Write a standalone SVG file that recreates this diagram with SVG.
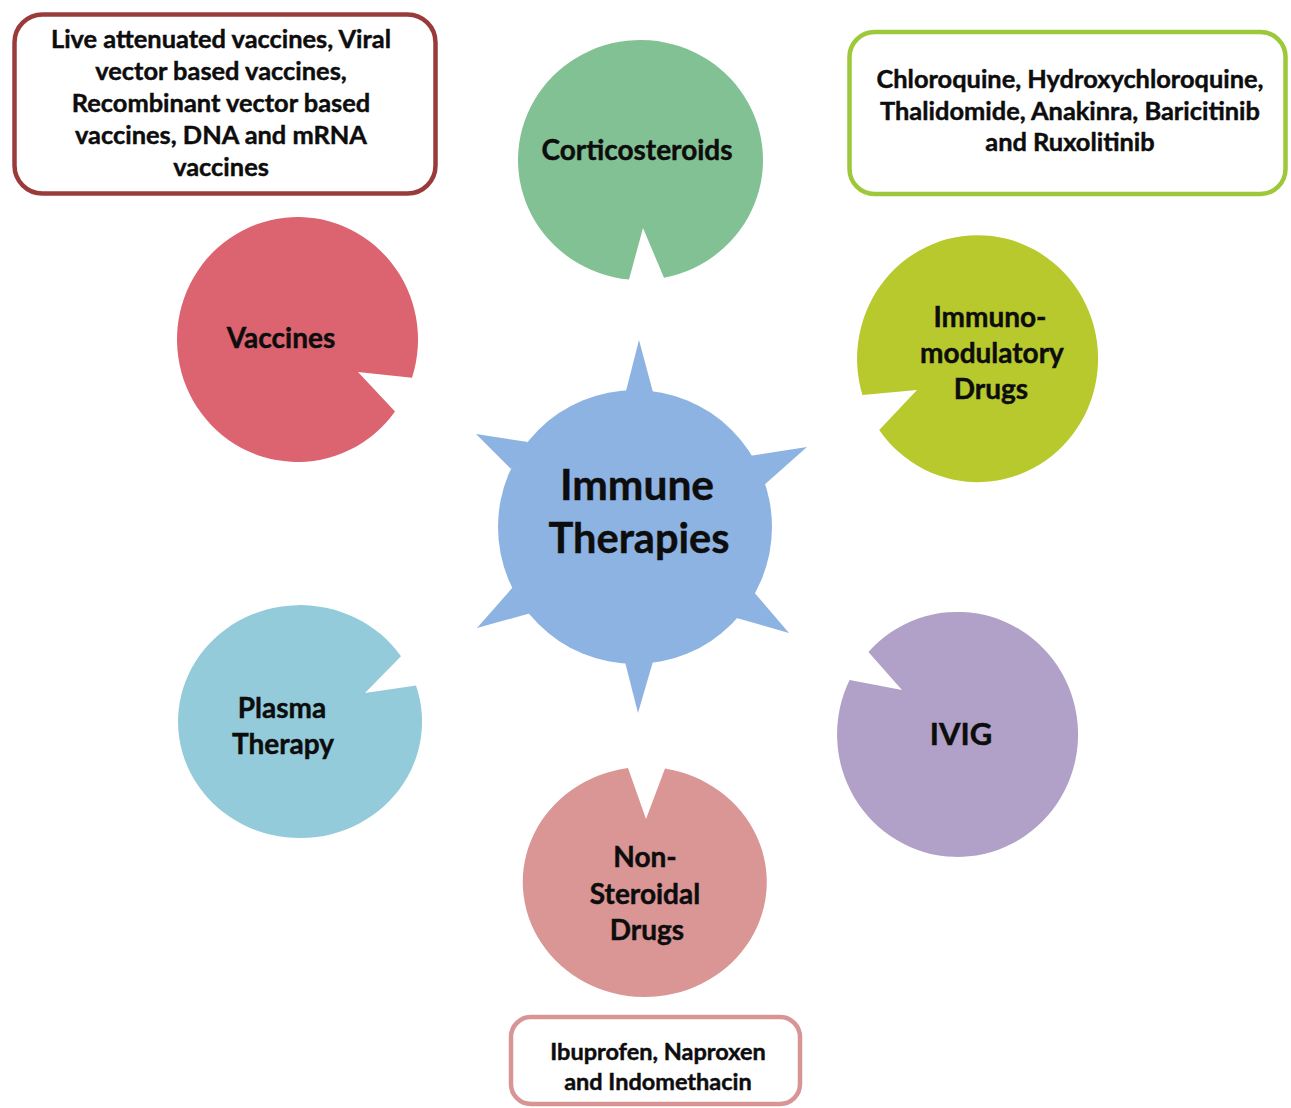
<svg xmlns="http://www.w3.org/2000/svg" width="1291" height="1108" viewBox="0 0 1291 1108">
  <style>
    text { font-family: Lato, "Open Sans", "Liberation Sans", sans-serif; font-weight: 700; fill: #0d0d0d; stroke: #0d0d0d; stroke-width: 0.45; text-anchor: middle; }
    .lbl { font-size: 28px; }
    .box { fill: #ffffff; stroke-width: 4.5; }
    .boxtxt { font-size: 25.4px; }
  </style>
  <rect width="1291" height="1108" fill="#ffffff"/>

  <!-- central hub: disc with six spikes -->
  <g id="immune-therapies">
    <g fill="#8db3e2">
      <circle cx="635" cy="527" r="137"/>
      <polygon points="639,340 625,395 654,396"/>
      <polygon points="807,447 749,456 763,486"/>
      <polygon points="789,633 753,591 733,617"/>
      <polygon points="638,713 624,658 654,658"/>
      <polygon points="477,628 513,587 531,613"/>
      <polygon points="476,434 528,442 511,469"/>
    </g>
    <text x="637" y="500" style="font-size:42.5px">Immune</text>
    <text x="639" y="553" style="font-size:41.5px">Therapies</text>
  </g>

  <!-- notched discs around the hub -->
  <g id="corticosteroids">
    <path d="M 629 279.5 A 122.5 120 0 1 1 664 277.8 L 643 228 Z" fill="#82c194"/>
    <text class="lbl" x="637" y="160">Corticosteroids</text>
  </g>

  <g id="vaccines">
    <path d="M 395 411.5 A 120.5 122.5 0 1 1 412 377.7 L 358 372 Z" fill="#dc6470"/>
    <text class="lbl" x="281" y="348">Vaccines</text>
  </g>

  <g id="immunomodulatory-drugs">
    <path d="M 862.4 395 A 120.5 123.5 0 1 1 879.2 430 L 917 390 Z" fill="#b8c92e"/>
    <text class="lbl" x="990" y="327">Immuno-</text>
    <text class="lbl" x="992" y="363">modulatory</text>
    <text class="lbl" x="991" y="399">Drugs</text>
  </g>

  <g id="plasma-therapy">
    <path d="M 416 685.4 A 122 116.5 0 1 1 401 656.2 L 365 693 Z" fill="#93cbdb"/>
    <text class="lbl" x="282" y="718">Plasma</text>
    <text class="lbl" x="283" y="754">Therapy</text>
  </g>

  <g id="ivig">
    <path d="M 868.4 652 A 120.5 122.5 0 1 1 849.6 680 L 902 690 Z" fill="#b1a1c8"/>
    <text x="961" y="745" style="font-size:31px">IVIG</text>
  </g>

  <g id="non-steroidal-drugs">
    <path d="M 665 768.6 A 122 115 0 1 1 628 768.1 L 646 819 Z" fill="#da9595"/>
    <text class="lbl" x="645" y="867">Non-</text>
    <text class="lbl" x="645" y="904">Steroidal</text>
    <text class="lbl" x="647" y="940">Drugs</text>
  </g>

  <!-- example boxes -->
  <g id="vaccine-examples">
    <rect class="box" x="14.5" y="14.5" width="421" height="179" rx="28" stroke="#9a3b3b"/>
    <text class="boxtxt" x="221" y="48">Live attenuated vaccines, Viral</text>
    <text class="boxtxt" x="221" y="80">vector based vaccines,</text>
    <text class="boxtxt" x="221" y="112">Recombinant vector based</text>
    <text class="boxtxt" x="221" y="144">vaccines, DNA and mRNA</text>
    <text class="boxtxt" x="221" y="176">vaccines</text>
  </g>

  <g id="immunomodulator-examples">
    <rect class="box" x="849.5" y="32" width="436" height="162" rx="25" stroke="#9cc83a"/>
    <text class="boxtxt" x="1070" y="88">Chloroquine, Hydroxychloroquine,</text>
    <text class="boxtxt" x="1070" y="120">Thalidomide, Anakinra, Baricitinib</text>
    <text class="boxtxt" x="1070" y="151">and Ruxolitinib</text>
  </g>

  <g id="nsaid-examples">
    <rect class="box" x="511" y="1017" width="289" height="87" rx="20" stroke="#d79595"/>
    <text x="658" y="1060" style="font-size:23.5px">Ibuprofen, Naproxen</text>
    <text x="658" y="1090" style="font-size:23.5px">and Indomethacin</text>
  </g>

  <!-- no connector lines in this figure -->
  <g id="connectors"/>
</svg>
